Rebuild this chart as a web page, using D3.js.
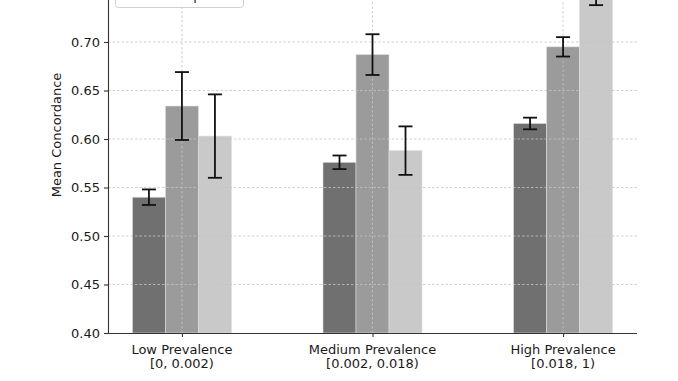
<!DOCTYPE html>
<html><head><meta charset="utf-8">
<script src="https://cdn.jsdelivr.net/npm/d3@7"></script>
<style>body{margin:0;background:#fff}svg{display:block;font-family:"DejaVu Sans",sans-serif}</style>
</head><body>
<svg id="c" width="678" height="381"></svg>
<script>
const categories = ["Low Prevalence", "Medium Prevalence", "High Prevalence"];
const categoryRanges = ["[0, 0.002)", "[0.002, 0.018)", "[0.018, 1)"];
const seriesNames = ["Model", "Expert", "Unexpert"];
const seriesColors = ["#707070", "#9b9b9b", "#c9c9c9"];
const seriesValues = [
  [0.540, 0.576, 0.616],
  [0.634, 0.687, 0.695],
  [0.603, 0.588, 0.750]
];
const seriesErrors = [
  [0.008, 0.007, 0.006],
  [0.035, 0.021, 0.010],
  [0.043, 0.025, 0.012]
];
const yTicks = [0.40, 0.45, 0.50, 0.55, 0.60, 0.65, 0.70, 0.75];

const svg = d3.select("#c");
const left = 108, right = 637, bottom = 333;
const FS = 13;
const y = d3.scaleLinear().domain([0.40, 0.765]).range([bottom, bottom - 0.365 * 970]);
const x = d3.scalePoint().domain(categories).range([left, right]).padding(0.388);
const barW = 33;
const xs = d3.scaleBand().domain(d3.range(seriesNames.length)).range([-barW * 1.5, barW * 1.5]);

// bars
seriesNames.forEach((s, si) => {
  svg.append("g").selectAll("rect").data(categories).join("rect")
    .attr("x", c => x(c) + xs(si))
    .attr("y", (c, i) => y(seriesValues[si][i]))
    .attr("width", xs.bandwidth())
    .attr("height", (c, i) => bottom - y(seriesValues[si][i]))
    .attr("fill", seriesColors[si])
    .attr("stroke", "#dedede").attr("stroke-width", 0.6);
});

// grid
const grid = svg.append("g").attr("stroke", "#c4c4c4").attr("stroke-width", 0.8).attr("stroke-dasharray", "2.5,2");
grid.selectAll(".h").data(yTicks.slice(1)).join("line")
  .attr("x1", left).attr("x2", right).attr("y1", d => y(d)).attr("y2", d => y(d));
grid.selectAll(".v").data(categories).join("line")
  .attr("x1", d => x(d)).attr("x2", d => x(d)).attr("y1", bottom).attr("y2", y(0.765));

// error bars
seriesNames.forEach((s, si) => {
  const g = svg.append("g").attr("stroke", "#111").attr("stroke-width", 1.8);
  categories.forEach((c, i) => {
    const cx = x(c) + xs(si) + xs.bandwidth() / 2;
    const v = seriesValues[si][i], e = seriesErrors[si][i];
    g.append("line").attr("x1", cx).attr("x2", cx).attr("y1", y(v - e)).attr("y2", y(v + e));
    [v - e, v + e].forEach(t => g.append("line").attr("x1", cx - 7).attr("x2", cx + 7).attr("y1", y(t)).attr("y2", y(t)));
  });
});

// axes
const yAxis = d3.axisLeft(y).tickValues(yTicks).tickFormat(d3.format(".2f")).tickSize(4).tickPadding(4);
const gy = svg.append("g").attr("transform", `translate(${left},0)`).call(yAxis);
const xAxis = d3.axisBottom(x).tickSize(4).tickFormat("");
const gx = svg.append("g").attr("transform", `translate(0,${bottom})`).call(xAxis);
[gy, gx].forEach(g => {
  g.select(".domain").attr("stroke", "#333").attr("stroke-width", 1.1);
  g.selectAll(".tick line").attr("stroke", "#333").attr("stroke-width", 1.1);
  g.selectAll("text").attr("font-size", FS).attr("fill", "#1a1a1a").attr("font-family", "DejaVu Sans");
});
gx.select(".domain").attr("d", `M${left},0.5H${right}`);
gy.select(".domain").attr("d", `M0.5,${bottom}V${y(0.765)}`);

// x labels
categories.forEach((c, i) => {
  const t = svg.append("text").attr("x", x(c)).attr("text-anchor", "middle").attr("font-size", FS).attr("fill", "#1a1a1a");
  t.append("tspan").attr("x", x(c)).attr("y", 354).text(c);
  t.append("tspan").attr("x", x(c)).attr("y", 368).text(categoryRanges[i]);
});

// y label
svg.append("text").attr("transform", `translate(61,135) rotate(-90)`)
  .attr("text-anchor", "middle").attr("font-size", FS).attr("fill", "#1a1a1a").text("Mean Concordance");

// legend (mostly cut off above the visible area, as in the reference)
const lg = svg.append("g");
lg.append("rect").attr("x", 115.5).attr("y", -60).attr("width", 128).attr("height", 67.5)
  .attr("rx", 3).attr("fill", "#fff").attr("fill-opacity", 0.8).attr("stroke", "#d0d0d0");
seriesNames.forEach((s, si) => {
  const yy = -47 + si * 19;
  lg.append("rect").attr("x", 120).attr("y", yy).attr("width", 27).attr("height", 9).attr("fill", seriesColors[si]);
  lg.append("text").attr("x", 160).attr("y", yy + 9).attr("font-size", FS).attr("fill", "#1a1a1a").text(s);
});
</script>
</body></html>
